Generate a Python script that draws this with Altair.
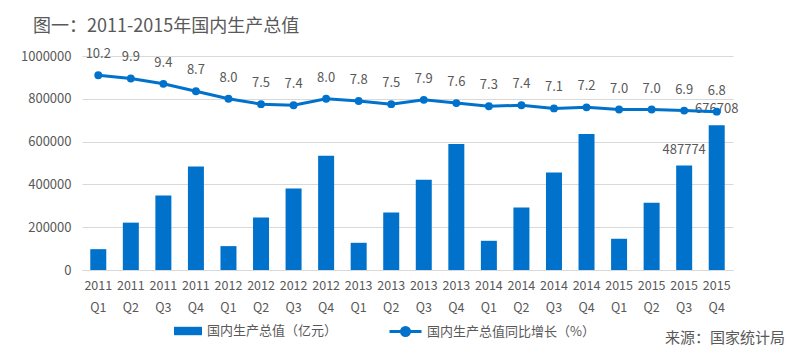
import altair as alt
import pandas as pd

quarters = ["2011 Q1", "2011 Q2", "2011 Q3", "2011 Q4",
            "2012 Q1", "2012 Q2", "2012 Q3", "2012 Q4",
            "2013 Q1", "2013 Q2", "2013 Q3", "2013 Q4",
            "2014 Q1", "2014 Q2", "2014 Q3", "2014 Q4",
            "2015 Q1", "2015 Q2", "2015 Q3", "2015 Q4"]
gdp = [97400, 221300, 348400, 483500,
       111600, 244800, 381400, 533500,
       127100, 268400, 422200, 588500,
       136500, 291900, 455100, 635600,
       146000, 313900, 487774, 676708]
growth = [10.2, 9.9, 9.4, 8.7,
          8.0, 7.5, 7.4, 8.0,
          7.8, 7.5, 7.9, 7.6,
          7.3, 7.4, 7.1, 7.2,
          7.0, 7.0, 6.9, 6.8]
y_ticks = [0, 200000, 400000, 600000, 800000, 1000000]
labeled_quarters = ["2015 Q3", "2015 Q4"]
bar_series = "国内生产总值（亿元）"
line_series = "国内生产总值同比增长（%）"
title_text = "图一：2011-2015年国内生产总值"
source_text = ["来源：国家统计局"]

BLUE = "#0072CC"
GRAY = "#595959"
GRID = "#D9D9D9"
FONT = "Noto Sans CJK SC"

df = pd.DataFrame({
    "quarter": quarters,
    "gdp": gdp,
    "growth": growth,
    "bar_series": bar_series,
    "line_series": line_series,
})

base = alt.Chart(df)

x_enc = alt.X(
    "quarter:N", sort=quarters,
    scale=alt.Scale(paddingInner=0, paddingOuter=0),
    axis=alt.Axis(title=None, labelAngle=0, labelExpr="split(datum.label, ' ')",
                  labelLineHeight=22, labelPadding=9, labelFontSize=12.5,
                  labelColor=GRAY, ticks=False, domainColor=GRID, grid=False),
)

y_bar = alt.Y(
    "gdp:Q",
    scale=alt.Scale(domain=[0, 1000000], nice=False),
    axis=alt.Axis(values=y_ticks, format="d", title=None, domain=False, ticks=False,
                  gridColor=GRID, labelColor=GRAY, labelFontSize=13, labelPadding=11),
)

bars = base.mark_bar(size=16).encode(
    x=x_enc,
    y=y_bar,
    color=alt.Color("bar_series:N", scale=alt.Scale(range=[BLUE]), title=None,
                    legend=alt.Legend(orient="none", legendX=91, legendY=260, padding=0,
                                      symbolType="M-1,-0.3H1V0.3H-1Z", symbolSize=784,
                                      labelFontSize=13, labelColor=GRAY, labelOffset=4,
                                      labelLimit=400)),
)

bar_text = base.mark_text(dy=-16, fontSize=13, color=GRAY).encode(
    x=alt.X("quarter:N", sort=quarters),
    y=alt.Y("gdp:Q"),
    text=alt.Text("gdp:Q", format="d"),
).transform_filter(alt.FieldOneOfPredicate(field="quarter", oneOf=labeled_quarters))

bar_layer = alt.layer(bars, bar_text)

y_line = alt.Y("growth:Q", scale=alt.Scale(domain=[-8, 12], nice=False, zero=False), axis=None)

line = base.mark_line(strokeWidth=3).encode(
    x=alt.X("quarter:N", sort=quarters),
    y=y_line,
    stroke=alt.Stroke("line_series:N", scale=alt.Scale(range=[BLUE]), title=None,
                      legend=alt.Legend(orient="none", legendX=306, legendY=258, padding=0,
                                        symbolType="M-1,0H1M0.25,0A0.25,0.25,0,1,1,-0.25,0A0.25,0.25,0,1,1,0.25,0",
                                        symbolSize=1024, symbolStrokeWidth=3,
                                        symbolFillColor=BLUE, symbolStrokeColor=BLUE,
                                        labelFontSize=13, labelColor=GRAY, labelOffset=4,
                                        labelLimit=400)),
)

points = base.mark_circle(size=62, color=BLUE, opacity=1).encode(
    x=alt.X("quarter:N", sort=quarters),
    y=y_line,
)

line_text = base.mark_text(dy=-21, fontSize=13, color=GRAY).encode(
    x=alt.X("quarter:N", sort=quarters),
    y=y_line,
    text=alt.Text("growth:Q", format=".1f"),
)

line_layer = alt.layer(line, points, line_text)

source = alt.Chart(pd.DataFrame({"t": source_text})).mark_text(
    align="left", baseline="middle", fontSize=15, color=GRAY
).encode(x=alt.value(583), y=alt.value(282), text="t:N")

chart = alt.layer(bar_layer, line_layer, source).resolve_scale(
    y="independent"
).properties(
    width=651, height=214,
    title=alt.TitleParams(title_text, anchor="start", frame="group", dx=-49,
                          fontSize=18, fontWeight="normal", color=GRAY, offset=12,
                          font=FONT),
    autosize=alt.AutoSizeParams(type="none"),
    padding={"left": 82, "top": 56, "right": 67, "bottom": 86},
).configure(
    font=FONT,
).configure_view(
    stroke=None,
)

chart.save("out.html", embed_options={"renderer": "svg", "actions": False})
